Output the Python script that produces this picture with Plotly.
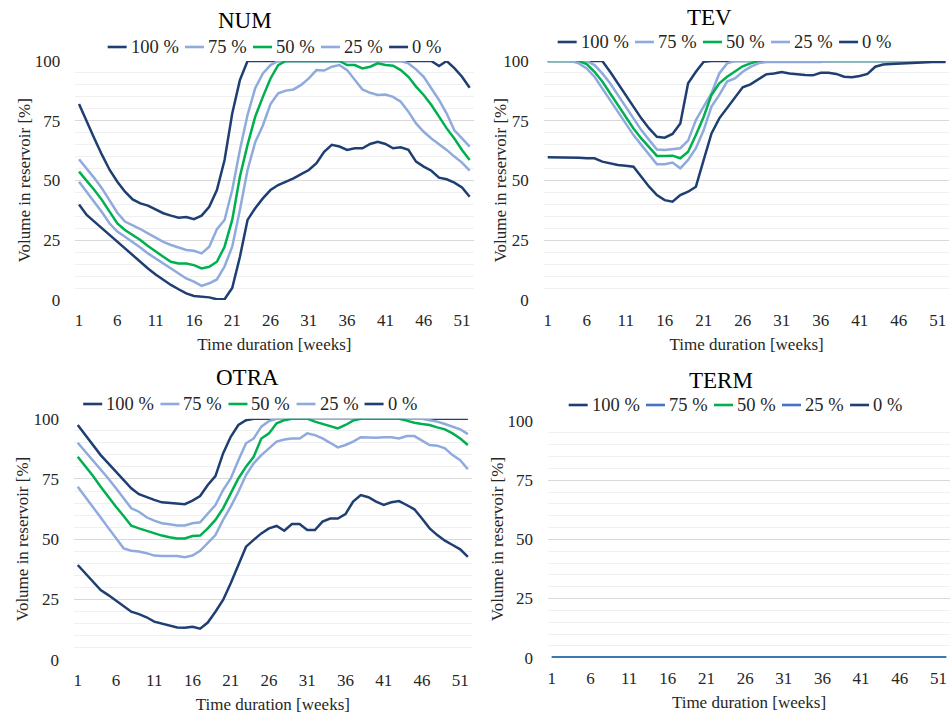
import plotly.graph_objects as go

# Weekly reservoir volume [%] for each initial storage level
weeks = list(range(1, 53))
week_ticks = [1, 6, 11, 16, 21, 26, 31, 36, 41, 46, 51]
levels = ["100 %", "75 %", "50 %", "25 %", "0 %"]

num_100 = [82, 74.6, 67.6, 60.7, 54.4, 49.5, 45.3, 42.1, 40.4, 39.5,
           38, 36.3, 35.3, 34.4, 34.7, 33.8, 35.3, 39, 46, 58.6,
           78, 92, 100, 100, 100, 100, 100, 100, 100, 100,
           100, 100, 100, 100, 100, 100, 100, 100, 100, 100,
           100, 100, 100, 100, 100, 100, 100, 97.9, 100, 97,
           93.4, 88.8]
num_75 = [58.9, 55, 51, 46.7, 41.8, 36.5, 32.8, 31.4, 29.7, 27.9,
          26.2, 24.3, 23, 21.9, 20.9, 20.6, 19.5, 22.3, 29.6, 33.5,
          46, 62.8, 77.4, 88.6, 94.8, 98.3, 100, 100, 100, 100,
          100, 100, 100, 100, 100, 100, 100, 100, 100, 100,
          100, 100, 100, 99, 96.5, 93.4, 88.6, 83.7, 78, 71,
          67.6, 64.2]
num_50 = [53.7, 50, 46, 41.8, 37, 32, 29.3, 27.2, 25.1, 22.6,
          20.2, 18.1, 16, 15.3, 15.3, 14.6, 13.2, 13.9, 16, 22.3,
          33.5, 51.6, 64.9, 76.7, 85, 92.7, 98.3, 100, 100, 100,
          100, 100, 100, 100, 100, 98.3, 98.3, 96.9, 97.6, 99,
          98.3, 98, 96.2, 93.4, 89.3, 85.8, 81.6, 76.7, 71.8, 67.6,
          62.8, 58.6]
num_25 = [49.5, 45.3, 41.1, 36.7, 32, 28.6, 26.5, 24.4, 22, 19.5,
          17.4, 15.3, 13.2, 11.2, 9, 7.7, 5.9, 7, 8.6, 14,
          22.3, 37.7, 54.4, 66, 73, 82, 86.5, 87.6, 88.1, 90,
          92.7, 96.2, 96, 97.6, 98.3, 96.2, 92.3, 88.1, 86.7, 85.8,
          86, 85, 83, 78.8, 73.9, 70.4, 67.6, 65.3, 62.8, 60,
          57.5, 54.1]
num_0 = [40, 35.6, 32.8, 30, 27.2, 24.4, 21.3, 18.5, 16, 13.2,
         10.7, 8.4, 6.3, 4.5, 2.8, 1.7, 1.4, 1.1, 0.3, 0.3,
         5, 18, 33.5, 38.4, 42.5, 46, 48.1, 49.5, 50.9, 52.7,
         54.4, 57.2, 62, 64.9, 64.2, 62.8, 63.5, 63.5, 65.3, 66.2,
         65.3, 63.5, 63.9, 62.8, 57.9, 55.8, 54.1, 51.2, 50.5, 49.1,
         47.1, 43.2]

tev_100 = [100, 100, 100, 100, 100, 100, 100, 100, 95.5, 90.7,
           85.8, 80.9, 76, 71.8, 68.3, 67.9, 69.5, 73.9, 90.7, 95.5,
           99.7, 100, 100, 100, 100, 100, 100, 100, 100, 100,
           100, 100, 100, 100, 100, 100, 100, 100, 100, 100,
           100, 100, 100, 100, 100, 100, 100, 100, 100, 100,
           100, 100]
tev_75 = [100, 100, 100, 100, 100, 100, 98.3, 94.8, 90.7, 85.8,
          80.9, 76, 71.1, 67, 63, 62.8, 63, 63.5, 66.7, 75.3,
          80.9, 86.5, 94.8, 99, 100, 100, 100, 100, 100, 100,
          100, 100, 100, 100, 100, 100, 100, 100, 100, 100,
          100, 100, 100, 100, 100, 100, 100, 100, 100, 100,
          100, 100]
tev_50 = [100, 100, 100, 100, 100, 98.7, 95.5, 91.4, 86.5, 81.6,
          76.7, 71.8, 67.6, 63.9, 60.3, 60.3, 60.4, 59.3, 62, 69,
          76.7, 85.8, 90.7, 93.4, 95.5, 97.8, 99, 100, 100, 100,
          100, 100, 100, 100, 100, 100, 100, 100, 100, 100,
          100, 100, 100, 100, 100, 100, 100, 100, 100, 100,
          100, 100]
tev_25 = [100, 100, 100, 100, 99, 96.9, 93.4, 88.6, 83.7, 78.8,
          73.9, 69, 64.9, 60.7, 56.8, 56.8, 57.5, 55.1, 58.6, 63.5,
          71.1, 80.9, 85.8, 91.4, 92.7, 95.5, 97.5, 99, 99.6, 99.6,
          99.6, 99.6, 99.6, 99.6, 99.6, 99.6, 100, 100, 100, 100,
          100, 100, 100, 100, 100, 100, 100, 100, 100, 100,
          100, 100]
tev_0 = [59.7, 59.7, 59.6, 59.5, 59.5, 59.3, 59.3, 57.9, 57.2, 56.5,
         56.2, 55.8, 51.6, 47.4, 43.9, 41.8, 41.1, 43.9, 45.3, 47.4,
         58.6, 69.7, 76, 80.2, 84.4, 89, 90.2, 92.3, 94.4, 94.8,
         95.4, 94.8, 94.4, 94.1, 94, 95.1, 95.1, 94.6, 93.4, 93.2,
         93.7, 94.6, 97.6, 98.5, 98.7, 98.9, 99.2, 99.3, 99.4, 99.6,
         99.7, 99.6]

otra_100 = [97.4, 93.2, 89.1, 84.9, 81.5, 78, 74.6, 71.1, 68.7, 67.4,
            66.3, 65.3, 65.1, 64.9, 64.5, 66, 67.9, 72.5, 76.2, 85.6,
            92.5, 97.4, 99.4, 100, 100, 100, 100, 100, 100, 100,
            100, 100, 100, 100, 100, 100, 100, 100, 100, 100,
            100, 100, 100, 100, 100, 100, 100, 100, 100, 100,
            100, 100]
otra_75 = [90, 86.3, 82.8, 79, 75.2, 71.1, 66.9, 62.8, 61.4, 59.1,
           57.7, 56.6, 56.2, 55.7, 55.7, 56.6, 57, 60.4, 64.2, 70.4,
           75.2, 82.8, 89.8, 91.8, 96.7, 99, 100, 100, 100, 100,
           100, 100, 100, 100, 100, 100, 100, 100, 100, 100,
           100, 100, 100, 100, 100, 100, 99.4, 98.8, 97.8, 96.7,
           95.6, 93.6]
otra_50 = [84.2, 80.4, 76.2, 71.8, 67.4, 63.5, 59.6, 55.6, 54.5, 53.5,
           52.4, 51.5, 50.8, 50.3, 50.3, 51.3, 51.5, 54.5, 58, 62.8,
           69, 75.2, 80.1, 84.2, 91.8, 93.9, 98.1, 99.4, 100, 100,
           100, 98.8, 97.8, 96.7, 96, 97.4, 99.2, 100, 100, 100,
           100, 100, 100, 99.2, 98.3, 97.8, 97.4, 96.4, 95.6, 93.9,
           91.8, 89.1]
otra_25 = [71.8, 67.7, 63.3, 59, 54.7, 50.4, 46.2, 45.2, 44.9, 44.2,
           43.2, 43, 43, 43, 42.5, 43.2, 45.2, 48.3, 51.7, 58,
           63.5, 69.7, 76.6, 81.5, 84.9, 87.7, 90.5, 91.4, 91.8, 91.8,
           93.9, 93.2, 91.8, 90, 88.1, 89.1, 90.5, 92.3, 92.1, 92.1,
           92.3, 92.3, 91.8, 92.8, 92.8, 91.1, 89.1, 88.8, 87.7, 84.9,
           82.8, 79]
otra_0 = [39.3, 35.8, 32.4, 28.9, 26.8, 24.5, 22, 19.9, 18.9, 17.6,
          15.8, 15.1, 14.4, 13.4, 13.3, 13.7, 12.9, 15.4, 19.9, 24.8,
          31.7, 39.3, 46.9, 49.7, 52.4, 54.5, 55.5, 53.5, 56.3, 56.3,
          53.8, 53.8, 57.3, 58.6, 58.6, 60.4, 65.6, 68.3, 67.4, 65.6,
          64.2, 65.3, 65.8, 64.2, 62.4, 58.6, 54.5, 51.7, 49.4, 47.6,
          45.8, 42.7]

term_100 = [0, 0, 0, 0, 0, 0, 0, 0, 0, 0, 0, 0, 0, 0, 0, 0, 0, 0, 0, 0,
            0, 0, 0, 0, 0, 0, 0, 0, 0, 0, 0, 0, 0, 0, 0, 0, 0, 0, 0, 0,
            0, 0, 0, 0, 0, 0, 0, 0, 0, 0, 0, 0]
term_75 = list(term_100)
term_50 = list(term_100)
term_25 = list(term_100)
term_0 = list(term_100)

DARK = "#1F3F73"
LIGHT = "#8FAADC"
GREEN = "#00B050"
MID = "#4472C4"
TEXT = "#262626"
FONT = "Liberation Serif"
W, H = 952, 714

# name, series, palette, x-extent (px), y-extent (px), title pos,
# legend centre, x of the vertical axis title
panels = [
    ("NUM", [num_100, num_75, num_50, num_25, num_0],
     [DARK, LIGHT, GREEN, LIGHT, DARK],
     (75.2, 473.5), (61, 300), (245, 20), (273.5, 47), 24),
    ("TEV", [tev_100, tev_75, tev_50, tev_25, tev_0],
     [DARK, LIGHT, GREEN, LIGHT, DARK],
     (543.8, 949.4), (61, 300), (709, 17), (723.5, 42), 500),
    ("OTRA", [otra_100, otra_75, otra_50, otra_25, otra_0],
     [DARK, LIGHT, GREEN, LIGHT, DARK],
     (73.9, 471.7), (418.7, 659.7), (247, 377), (249, 404), 22),
    ("TERM", [term_100, term_75, term_50, term_25, term_0],
     [DARK, MID, GREEN, MID, DARK],
     (548, 950), (421, 657.7), (721, 380), (734.5, 405), 497),
]

# Legend geometry: short line key followed by its label
LEG_FS = 18.5
LEG_LINE = 19
LEG_TXT_GAP = 2
LEG_ITEM_GAP = 8.5
CHAR_EM = {" ": 0.25, "%": 0.833}


def text_width(s, size):
    return sum(CHAR_EM.get(c, 0.5) for c in s) * size


fig = go.Figure()
shapes = []
annotations = []
layout = dict(
    template="none",
    width=W, height=H,
    margin=dict(l=0, r=0, t=0, b=0, autoexpand=False),
    paper_bgcolor="white", plot_bgcolor="white",
    font=dict(family=FONT, size=17, color=TEXT),
    showlegend=False,
)

for i, (name, series, colors, (x0, x1), (yt, yb), (tx, ty), (lx, ly), ytx) in enumerate(panels):
    n = i + 1
    sfx = "" if n == 1 else str(n)
    # TERM shows its mid-blue series on top of the overlapping zero lines
    order = [0, 1, 2, 3, 4] if name != "TERM" else [0, 4, 2, 1, 3]
    for k in order:
        fig.add_trace(go.Scatter(
            x=weeks, y=series[k], mode="lines", name=levels[k],
            line=dict(color=colors[k], width=2.5),
            xaxis="x" + sfx, yaxis="y" + sfx,
            cliponaxis=False, hoverinfo="skip",
        ))
    layout["xaxis" + sfx] = dict(
        domain=[x0 / W, x1 / W], anchor="y" + sfx,
        range=[0.5, 52.5], tickmode="array", tickvals=week_ticks,
        showgrid=False, zeroline=False, showline=False, ticks="",
        automargin=False, ticklabelstandoff=8,
        tickfont=dict(family=FONT, size=17, color=TEXT),
        title=dict(text="Time duration [weeks]", standoff=9,
                   font=dict(family=FONT, size=17, color=TEXT)),
    )
    layout["yaxis" + sfx] = dict(
        domain=[1 - yb / H, 1 - yt / H], anchor="x" + sfx,
        range=[0, 100], tickmode="array", tickvals=[0, 25, 50, 75, 100],
        showgrid=True, gridcolor="#D9D9D9", gridwidth=1,
        minor=dict(dtick=5, tick0=0, showgrid=True, gridcolor="#F0F0F0", gridwidth=1),
        zeroline=False, showline=False, ticks="",
        automargin=False, ticklabelstandoff=14,
        tickfont=dict(family=FONT, size=17, color=TEXT),
    )
    annotations.append(dict(
        text="Volume in reservoir [%]", x=ytx / W, y=1 - (yt + yb) / 2 / H,
        xref="paper", yref="paper", xanchor="center", yanchor="middle",
        textangle=-90, showarrow=False,
        font=dict(family=FONT, size=17, color=TEXT),
    ))
    annotations.append(dict(
        text=name, x=tx / W, y=1 - ty / H, xref="paper", yref="paper",
        xanchor="center", yanchor="middle", showarrow=False,
        font=dict(family=FONT, size=23, color="#000000"),
    ))

    # horizontal legend row, centred above the plot area
    widths = [text_width(lbl, LEG_FS) for lbl in levels]
    total = sum(widths) + len(levels) * (LEG_LINE + LEG_TXT_GAP) + (len(levels) - 1) * LEG_ITEM_GAP
    cx = lx - total / 2
    for k, lbl in enumerate(levels):
        shapes.append(dict(
            type="line", xref="paper", yref="paper",
            x0=cx / W, x1=(cx + LEG_LINE) / W, y0=1 - ly / H, y1=1 - ly / H,
            line=dict(color=colors[k], width=2.6),
        ))
        annotations.append(dict(
            text=lbl, x=(cx + LEG_LINE + LEG_TXT_GAP) / W, y=1 - ly / H,
            xref="paper", yref="paper", xanchor="left", yanchor="middle",
            showarrow=False, font=dict(family=FONT, size=LEG_FS, color=TEXT),
        ))
        cx += LEG_LINE + LEG_TXT_GAP + widths[k] + LEG_ITEM_GAP

layout["shapes"] = shapes
layout["annotations"] = annotations
fig.update_layout(**layout)
fig.write_html("out.html")
